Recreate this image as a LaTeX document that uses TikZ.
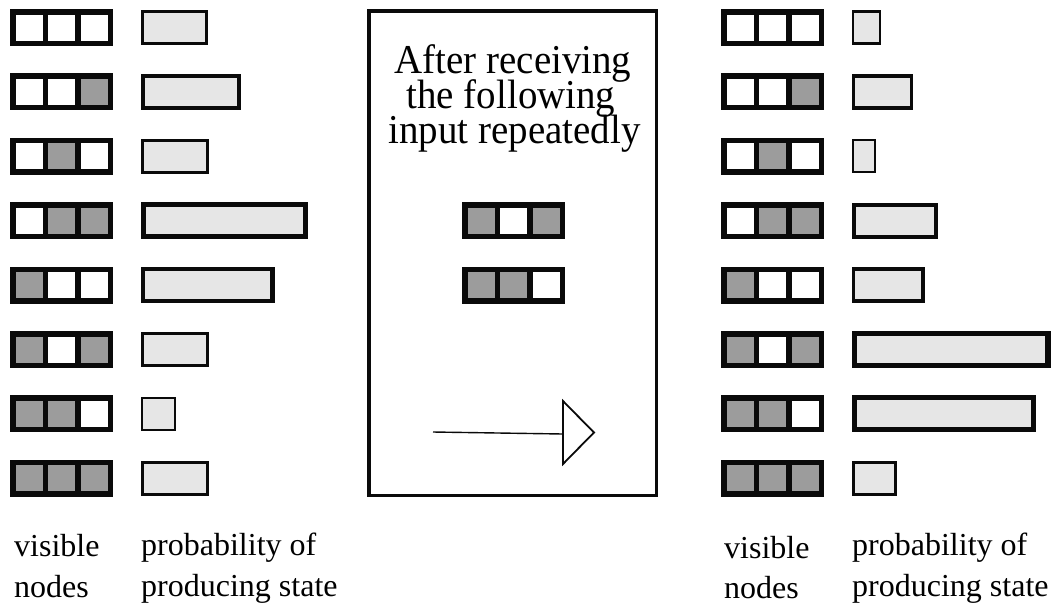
\documentclass[tikz,border=0pt]{standalone}
\usepackage{fontspec}
\setmainfont{Liberation Serif}
\newfontfamily\titlefont[FakeStretch=0.95]{Liberation Serif}
\definecolor{ink}{HTML}{0A0A0A}
\definecolor{cellgray}{HTML}{9C9C9C}
\definecolor{barfill}{HTML}{E6E6E6}

\tikzset{
  cell/.style={draw=ink, line width=5.5pt, minimum width=32.5pt,
    minimum height=31.5pt, inner sep=0pt, outer sep=0pt},
  probbox/.style={draw=ink, fill=barfill, inner sep=0pt, outer sep=0pt,
    anchor=west, minimum height=32pt},
  lbl/.style={font=\fontsize{32}{41}\selectfont, inner sep=0pt, anchor=base west},
  ttl/.style={font=\titlefont\fontsize{41}{35}\selectfont, inner sep=0pt, anchor=base},
}

% three visible units in a row: name, left edge, vertical centre, bits
\newcommand\statebox[4]{%
  \foreach \b [count=\j from 0] in {#4} {
    \ifnum\b=1 \def\fc{cellgray}\else\def\fc{white}\fi
    \node[cell, fill=\fc] (#1c\j) at ({#2+2.75+32.5*(\j+0.5)},#3) {};
  }}

% probability bar: name, left edge, vertical centre, outer width, line width
\newcommand\probbar[5]{%
  \node[probbox, line width=#5pt, minimum width={(#4-#5)*1pt}]
    (#1) at ({#2+#5/2},#3) {};}

\begin{document}
\begin{tikzpicture}[x=1pt, y=-1pt]
\useasboundingbox (0,0) rectangle (1053,606);

% left column: states before training
\statebox{L1}{10}{27.5}{0,0,0}
\statebox{L2}{10}{91.9}{0,0,1}
\statebox{L3}{10}{156.3}{0,1,0}
\statebox{L4}{10}{220.7}{0,1,1}
\statebox{L5}{10}{285.1}{1,0,0}
\statebox{L6}{10}{349.5}{1,0,1}
\statebox{L7}{10}{413.9}{1,1,0}
\statebox{L8}{10}{478.3}{1,1,1}

\probbar{Lp1}{140.5}{27.5}{67.5}{3.3}
\probbar{Lp2}{140.5}{91.9}{100.5}{4}
\probbar{Lp3}{140.5}{156.3}{68.5}{3.3}
\probbar{Lp4}{140.5}{220.7}{167}{5}
\probbar{Lp5}{140.5}{285.1}{134}{4.5}
\probbar{Lp6}{140.5}{349.5}{68.5}{3.3}
\probbar{Lp7}{140.5}{413.9}{35.5}{2.5}
\probbar{Lp8}{140.5}{478.3}{68.5}{3.3}

\node[lbl] (Lv1) at (14,556) {visible};
\node[lbl] (Lv2) at (14,597) {nodes};
\node[lbl] (Lq1) at (141,555) {probability of};
\node[lbl] (Lq2) at (141,596) {producing state};

% middle panel: training input
\node[draw=ink, line width=3.5pt, minimum width=287.5pt, minimum height=484.5pt,
  inner sep=0pt] (panel) at (512.5,253) {};
\node[ttl] (t1) at (513,73) {After receiving};
\node[ttl] (t2) at (511,108) {the following};
\node[ttl] (t3) at (514.5,143) {input repeatedly};

\statebox{M1}{462}{220.7}{1,0,1}
\statebox{M2}{462}{285.1}{1,1,0}

\coordinate (aS) at (433,432);
\coordinate (aE) at (563,434);
\draw[ink, line width=1.4pt] (aS) -- (aE);
\draw[ink, line width=1.8pt, line join=miter] (563,401) -- (594,432.5) -- (563,464) -- cycle;

% right column: states after training
\statebox{R1}{721}{27.5}{0,0,0}
\statebox{R2}{721}{91.9}{0,0,1}
\statebox{R3}{721}{156.3}{0,1,0}
\statebox{R4}{721}{220.7}{0,1,1}
\statebox{R5}{721}{285.1}{1,0,0}
\statebox{R6}{721}{349.5}{1,0,1}
\statebox{R7}{721}{413.9}{1,1,0}
\statebox{R8}{721}{478.3}{1,1,1}

\probbar{Rp1}{851.5}{27.5}{29.5}{2.5}
\probbar{Rp2}{851.5}{91.9}{61.5}{3.5}
\probbar{Rp3}{851.5}{156.3}{24.5}{2.3}
\probbar{Rp4}{851.5}{220.7}{86}{4}
\probbar{Rp5}{851.5}{285.1}{73.5}{3.8}
\probbar{Rp6}{851.5}{349.5}{199}{5.3}
\probbar{Rp7}{851.5}{413.9}{184.5}{5}
\probbar{Rp8}{851.5}{478.3}{45.5}{3}

\node[lbl] (Rv1) at (724,558) {visible};
\node[lbl] (Rv2) at (724,598) {nodes};
\node[lbl] (Rq1) at (852,555) {probability of};
\node[lbl] (Rq2) at (852,596) {producing state};
\end{tikzpicture}
\end{document}
